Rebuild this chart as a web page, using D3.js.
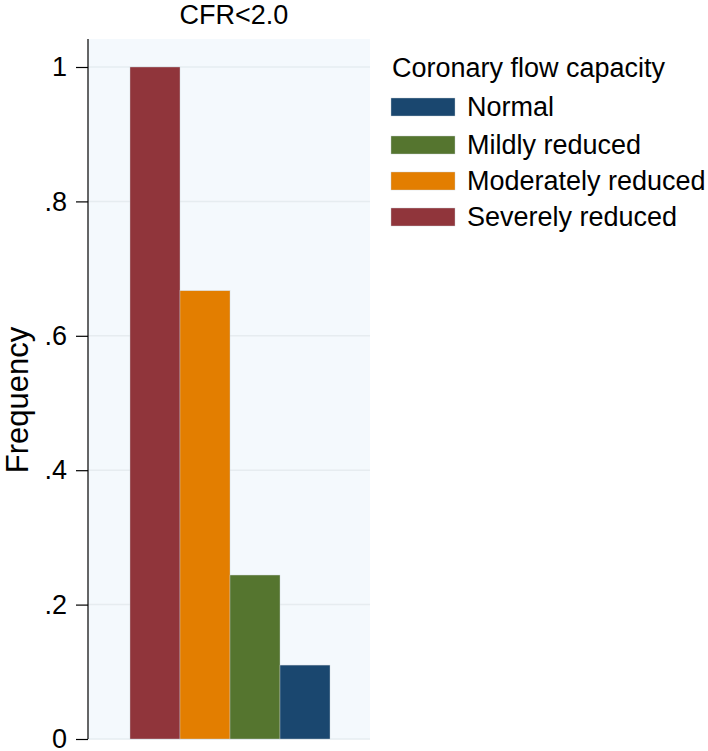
<!DOCTYPE html>
<html lang="en">
<head>
<meta charset="UTF-8">
<title>CFR&lt;2.0 frequency</title>
<script src="https://cdn.jsdelivr.net/npm/d3@7"></script>
<style>
    body{ margin: 0; background: #fff; }
    svg text{ font-family: "Liberation Sans", Arial, sans-serif; fill: #000; }
</style>
</head>
<body>
<svg id="chart" width="708" height="751"></svg>
<script>
    // data
    const categories = ['Severely reduced', 'Moderately reduced', 'Mildly reduced', 'Normal'];
    const frequency = [1.0, 0.667, 0.244, 0.110];
    const legendOrder = ['Normal', 'Mildly reduced', 'Moderately reduced', 'Severely reduced'];
    const yTicks = [0, 0.2, 0.4, 0.6, 0.8, 1];
    const yTickLabels = ['0', '.2', '.4', '.6', '.8', '1'];

    const colors = {
        'Normal': '#1a476f',
        'Mildly reduced': '#55752f',
        'Moderately reduced': '#e37e00',
        'Severely reduced': '#90353b'
    };

    const svg = d3.select('#chart');
    const plot = {left: 88, right: 370, top: 39, bottom: 739};

    let y = d3.scaleLinear().domain([0, 1]).range([plot.bottom, 67]);
    let x = d3.scaleBand().domain(categories).range([130, 330]).padding(0);

    // plot background
    svg.append('rect')
        .attr('x', plot.left).attr('y', plot.top)
        .attr('width', plot.right - plot.left).attr('height', plot.bottom - plot.top)
        .attr('fill', '#f4f9fd');

    // gridlines
    svg.append('g').selectAll('line').data(yTicks).enter().append('line')
        .attr('x1', plot.left).attr('x2', plot.right)
        .attr('y1', d => y(d)).attr('y2', d => y(d))
        .attr('stroke', '#e6ecf0').attr('stroke-width', 1.5);

    // bars
    svg.append('g').selectAll('rect').data(categories).enter().append('rect')
        .attr('x', d => x(d))
        .attr('y', (d, i) => y(frequency[i]))
        .attr('width', x.bandwidth())
        .attr('height', (d, i) => plot.bottom - y(frequency[i]))
        .attr('fill', d => colors[d])
        .attr('stroke', '#c9cfd4').attr('stroke-width', 0.4);

    // y axis
    let yAxis = d3.axisLeft(y).tickValues(yTicks)
        .tickFormat((d, i) => yTickLabels[i]).tickSize(12).tickPadding(9);
    let ax = svg.append('g').attr('transform', `translate(${plot.left},0)`).call(yAxis);
    ax.select('.domain').remove();
    ax.append('line').attr('x1', 0).attr('x2', 0)
        .attr('y1', plot.top).attr('y2', plot.bottom)
        .attr('stroke', '#000').attr('stroke-width', 1.2);
    ax.selectAll('.tick line').attr('stroke', '#000').attr('stroke-width', 1.2);
    ax.selectAll('.tick text').attr('font-size', 27).attr('fill', '#000')
        .style('font-family', '"Liberation Sans", Arial, sans-serif');

    // y axis title
    svg.append('text')
        .attr('transform', 'translate(28,400) rotate(-90)')
        .attr('text-anchor', 'middle')
        .attr('font-size', 31)
        .text('Frequency');

    // chart title
    svg.append('text')
        .attr('x', 234).attr('y', 24)
        .attr('text-anchor', 'middle')
        .attr('font-size', 27)
        .text('CFR<2.0');

    // legend
    let legend = svg.append('g').attr('transform', 'translate(391,0)');
    legend.append('text').attr('x', 1).attr('y', 77)
        .attr('font-size', 27).text('Coronary flow capacity');
    let itemY = [98, 136, 172, 208];
    let items = legend.selectAll('.item').data(legendOrder).enter().append('g')
        .attr('transform', (d, i) => `translate(0,${itemY[i]})`);
    items.append('rect')
        .attr('width', 64).attr('height', 18)
        .attr('fill', d => colors[d])
        .attr('stroke', '#c9cfd4').attr('stroke-width', 0.4);
    items.append('text')
        .attr('x', 76).attr('y', 18)
        .attr('font-size', 27).text(d => d);
</script>
</body>
</html>
